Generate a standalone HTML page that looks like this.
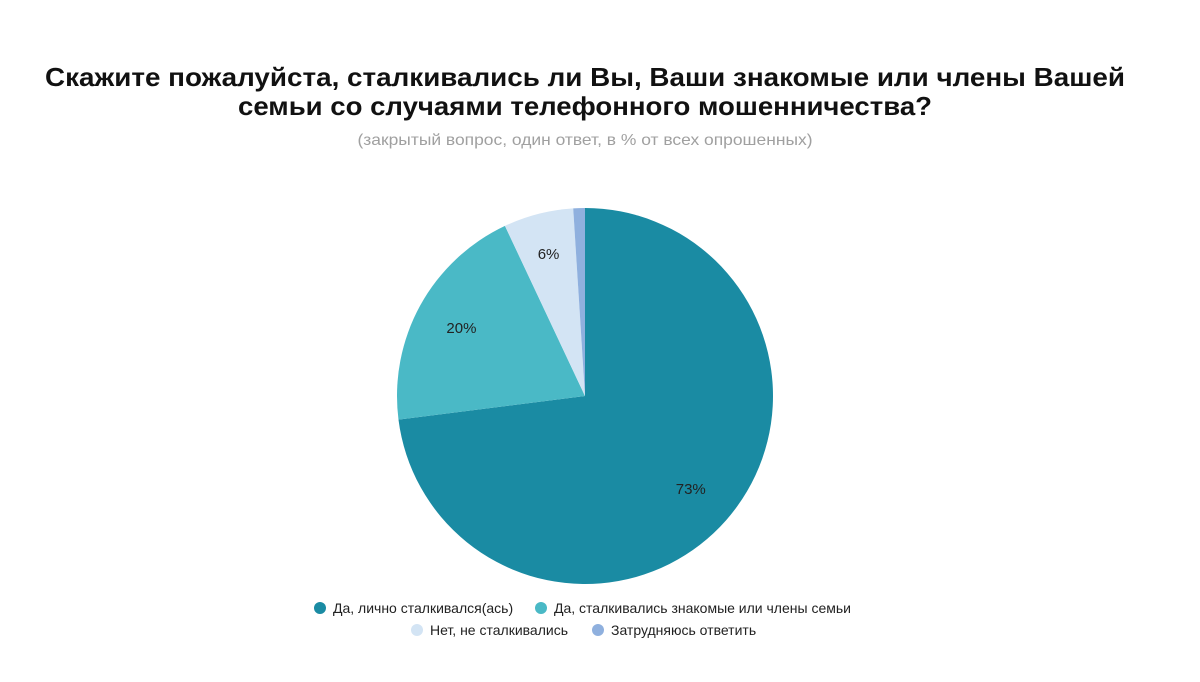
<!DOCTYPE html>
<html><head><meta charset="utf-8"><style>
body{margin:0;width:1200px;height:677px;background:#fff;font-family:"Liberation Sans",sans-serif;overflow:hidden}
</style></head><body>
<svg width="1200" height="677">
<text x="585" y="86" text-anchor="middle" font-size="26" font-weight="bold" fill="#111" textLength="1080" lengthAdjust="spacingAndGlyphs">Скажите пожалуйста, сталкивались ли Вы, Ваши знакомые или члены Вашей</text>
<text x="585" y="115" text-anchor="middle" font-size="26" font-weight="bold" fill="#111" textLength="694" lengthAdjust="spacingAndGlyphs">семьи со случаями телефонного мошенничества?</text>
<text x="585" y="145" text-anchor="middle" font-size="16" fill="#a0a0a0" textLength="455" lengthAdjust="spacingAndGlyphs">(закрытый вопрос, один ответ, в % от всех опрошенных)</text>
<g id="slices"></g>
<g id="legend" font-size="14" fill="#222"></g>
</svg>
<script>
const categories=["Да, лично сталкивался(ась)","Да, сталкивались знакомые или члены семьи","Нет, не сталкивались","Затрудняюсь ответить"];
const values=[73,20,6,1];
const labels=["73%","20%","6%",""];
const colors=["#1a8ba3","#4ab9c6","#d3e4f4","#8fb0de"];
const NS="http://www.w3.org/2000/svg";
const cx=585,cy=396,r=188;
const g=document.getElementById('slices');
const total=values.reduce((a,b)=>a+b,0);
let a0=0;
function pt(a,rr){return [cx+rr*Math.sin(a),cy-rr*Math.cos(a)];}
values.forEach((v,i)=>{
  const a1=a0+v/total*2*Math.PI;
  const p0=pt(a0,r),p1=pt(a1,r);
  const path=document.createElementNS(NS,'path');
  path.setAttribute('d',`M${cx},${cy}L${p0[0]},${p0[1]}A${r},${r} 0 ${a1-a0>Math.PI?1:0} 1 ${p1[0]},${p1[1]}Z`);
  path.setAttribute('fill',colors[i]);
  
  
  g.appendChild(path);
  if(labels[i]){
    const m=pt((a0+a1)/2,r*(v<10?0.78:0.75));
    const t=document.createElementNS(NS,'text');
    t.setAttribute('x',m[0]);t.setAttribute('y',m[1]+5);
    t.setAttribute('text-anchor','middle');t.setAttribute('font-size','15');t.setAttribute('fill','#222');
    t.textContent=labels[i];
    
    
    g.appendChild(t);
  }
  a0=a1;
});
const lg=document.getElementById('legend');
const pos=[[320,608],[541,608],[417,630],[598,630]];
categories.forEach((c,i)=>{
  const e=document.createElementNS(NS,'g');
  
  
  const ci=document.createElementNS(NS,'circle');
  ci.setAttribute('cx',pos[i][0]);ci.setAttribute('cy',pos[i][1]);ci.setAttribute('r',6);ci.setAttribute('fill',colors[i]);
  const t=document.createElementNS(NS,'text');
  t.setAttribute('x',pos[i][0]+13);t.setAttribute('y',pos[i][1]+5);t.textContent=c;
  e.appendChild(ci);e.appendChild(t);lg.appendChild(e);
});
</script>
</body></html>
